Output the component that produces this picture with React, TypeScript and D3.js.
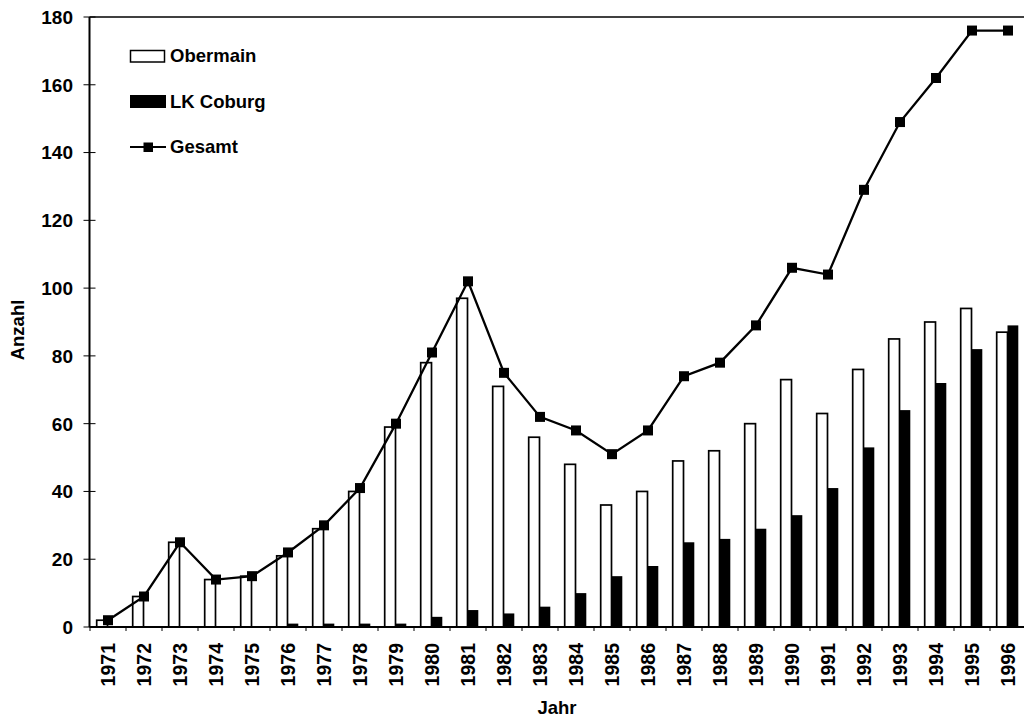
import React from 'react';
import * as d3 from 'd3';

const years = ['1971','1972','1973','1974','1975','1976','1977','1978','1979','1980','1981','1982','1983','1984','1985','1986','1987','1988','1989','1990','1991','1992','1993','1994','1995','1996'];
const obermain = [2,9,25,14,15,21,29,40,59,78,97,71,56,48,36,40,49,52,60,73,63,76,85,90,94,87];
const lkCoburg = [0,0,0,0,0,1,1,1,1,3,5,4,6,10,15,18,25,26,29,33,41,53,64,72,82,89];
const gesamt = [2,9,25,14,15,22,30,41,60,81,102,75,62,58,51,58,74,78,89,106,104,129,149,162,176,176];
const yTicks = [0,20,40,60,80,100,120,140,160,180];

const W = 1024, H = 717;
const left = 89.5, top = 17, bottom = 627, right = 1026;
const font = '"Liberation Sans", Arial, sans-serif';

export default function App() {
  const x = d3.scaleBand<string>().domain(years).range([left + 0.5, right]);
  const y = d3.scaleLinear().domain([0, 180]).range([bottom, top]);
  const bw = x.bandwidth();
  const barW = bw * 0.3;
  const cx = (yr: string) => (x(yr) as number) + bw / 2;
  const line = d3.line<number>().x((_, i) => cx(years[i])).y(d => y(d));
  const boundaries = years.map(yr => x(yr) as number).concat([right]);

  return (
    <svg width={W} height={H} style={{ position: 'absolute', left: 0, top: 0, background: '#fff' }}
      fontFamily={font} fontWeight="bold">
      <rect x={0} y={0} width={W} height={H} fill="#fff" />
      {/* bars */}
      {years.map((yr, i) => (
        <rect key={'o' + yr} x={cx(yr) - barW - 0.5} y={y(obermain[i])} width={barW}
          height={bottom - y(obermain[i])} fill="#fff" stroke="#000" strokeWidth={1.7} />
      ))}
      {years.map((yr, i) => (
        <rect key={'l' + yr} x={cx(yr) - 0.5} y={y(lkCoburg[i]) - (lkCoburg[i] > 0 ? 0 : 1)} width={barW}
          height={bottom - y(lkCoburg[i]) + (lkCoburg[i] > 0 ? 0 : 1)} fill="#000" />
      ))}
      {/* axes */}
      <line x1={left} x2={left} y1={top} y2={bottom} stroke="#000" strokeWidth={2} />
      <line x1={left} x2={W} y1={top} y2={top} stroke="#000" strokeWidth={1.5} />
      <line x1={left} x2={W} y1={bottom} y2={bottom} stroke="#000" strokeWidth={2} />
      {yTicks.map(t => (
        <g key={'yt' + t}>
          <line x1={left - 6} x2={left + 6} y1={y(t)} y2={y(t)} stroke="#000" strokeWidth={1} />
          <text x={73} y={y(t)} dy="0.36em" textAnchor="end" fontSize={19}>{t}</text>
        </g>
      ))}
      {boundaries.map((b, i) => (
        <line key={'xt' + i} x1={b} x2={b} y1={bottom} y2={bottom + 4} stroke="#000" strokeWidth={1} />
      ))}
      {years.map(yr => (
        <text key={'xl' + yr} transform={`translate(${cx(yr)},643) rotate(-90)`} dy="0.36em"
          textAnchor="end" fontSize={19.5}>{yr}</text>
      ))}
      {/* line */}
      <path d={line(gesamt) as string} fill="none" stroke="#000" strokeWidth={2.3} />
      {gesamt.map((v, i) => (
        <rect key={'m' + i} x={cx(years[i]) - 5} y={y(v) - 5} width={10} height={10} fill="#000" />
      ))}
      {/* axis titles */}
      <text x={557} y={714} textAnchor="middle" fontSize={18.5}>Jahr</text>
      <text transform="translate(24,330) rotate(-90)" textAnchor="middle" fontSize={18.5}>Anzahl</text>
      {/* legend */}
      <rect x={130.5} y={50.5} width={34} height={11.5} fill="#fff" stroke="#000" strokeWidth={1.5} />
      <text x={170} y={62} fontSize={18.5}>Obermain</text>
      <rect x={130} y={95} width={36} height={13} fill="#000" />
      <text x={170} y={108} fontSize={18.5}>LK Coburg</text>
      <line x1={130} x2={166} y1={147} y2={147} stroke="#000" strokeWidth={2} />
      <rect x={143.5} y={142.5} width={9.5} height={9.5} fill="#000" />
      <text x={170} y={153} fontSize={18.5}>Gesamt</text>
    </svg>
  );
}
